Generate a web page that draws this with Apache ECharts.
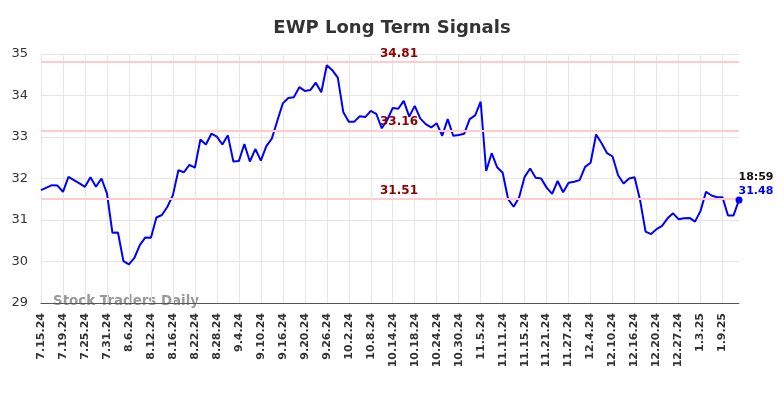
<!DOCTYPE html>
<html>
<head>
<meta charset="utf-8">
<script src="https://cdn.jsdelivr.net/npm/echarts@6/dist/echarts.min.js"></script>
<style>
html,body{margin:0;padding:0;background:#fff;}
#c{width:784px;height:398px;}
</style>
</head>
<body>
<div id="c"></div>
<script>
const dates = [
"7.15.24","7.16.24","7.17.24","7.18.24","7.19.24","7.22.24","7.23.24","7.24.24","7.25.24","7.26.24","7.29.24","7.30.24","7.31.24",
"8.1.24","8.2.24","8.5.24","8.6.24","8.7.24","8.8.24","8.9.24","8.12.24","8.13.24","8.14.24","8.15.24","8.16.24",
"8.19.24","8.20.24","8.21.24","8.22.24","8.23.24","8.26.24","8.27.24","8.28.24","8.29.24","8.30.24",
"9.3.24","9.4.24","9.5.24","9.6.24","9.9.24","9.10.24","9.11.24","9.12.24","9.13.24","9.16.24","9.17.24","9.18.24","9.19.24","9.20.24",
"9.23.24","9.24.24","9.25.24","9.26.24","9.27.24","9.30.24",
"10.1.24","10.2.24","10.3.24","10.4.24","10.7.24","10.8.24","10.9.24","10.10.24","10.11.24","10.14.24","10.15.24","10.16.24","10.17.24","10.18.24",
"10.21.24","10.22.24","10.23.24","10.24.24","10.25.24","10.28.24","10.29.24","10.30.24","10.31.24",
"11.1.24","11.4.24","11.5.24","11.6.24","11.7.24","11.8.24","11.11.24","11.12.24","11.13.24","11.14.24","11.15.24",
"11.18.24","11.19.24","11.20.24","11.21.24","11.22.24","11.25.24","11.26.24","11.27.24","11.29.24",
"12.2.24","12.3.24","12.4.24","12.5.24","12.6.24","12.9.24","12.10.24","12.11.24","12.12.24","12.13.24",
"12.16.24","12.17.24","12.18.24","12.19.24","12.20.24","12.23.24","12.24.24","12.26.24","12.27.24","12.30.24","12.31.24",
"1.2.25","1.3.25","1.6.25","1.7.25","1.8.25","1.9.25","1.10.25","1.13.25","1.14.25"
];
const closes = [
31.72,31.78,31.84,31.83,31.68,32.04,31.96,31.88,31.80,32.03,31.80,32.00,31.64,
30.69,30.70,30.01,29.93,30.09,30.40,30.58,30.57,31.06,31.12,31.32,31.60,
32.20,32.15,32.33,32.26,32.94,32.82,33.08,33.01,32.82,33.04,
32.41,32.42,32.83,32.41,32.71,32.43,32.78,32.96,33.39,33.81,33.94,33.96,34.20,34.11,
34.13,34.31,34.08,34.73,34.61,34.43,
33.60,33.37,33.37,33.50,33.48,33.63,33.56,33.21,33.41,33.70,33.68,33.87,33.49,33.75,
33.45,33.31,33.23,33.33,33.03,33.43,33.03,33.05,33.08,
33.43,33.52,33.85,32.18,32.61,32.27,32.14,31.50,31.32,31.55,32.04,
32.24,32.02,32.00,31.78,31.63,31.94,31.67,31.90,31.92,
31.96,32.28,32.38,33.06,32.85,32.61,32.53,32.08,31.88,32.00,
32.03,31.48,30.72,30.66,30.78,30.86,31.04,31.16,31.02,31.04,31.05,
30.96,31.22,31.68,31.59,31.55,31.55,31.11,31.11,31.48
];
const levels = [34.81, 33.16, 31.51];
const yMin = 29, yMax = 35, yStep = 1;
const lastTime = "18:59";

const chart = echarts.init(document.getElementById('c'), null, {renderer:'canvas'});
const lastIdx = closes.length - 1;
const FONT = '"DejaVu Sans", sans-serif';

chart.setOption({
  animation: false,
  backgroundColor: '#fff',
  title: {
    text: 'EWP Long Term Signals',
    left: 'center', top: 14,
    textStyle: {fontFamily: FONT, fontSize: 18, fontWeight: 'bold', color: '#333'}
  },
  grid: {left: 41, right: 45, top: 54, bottom: 95, containLabel: false},
  xAxis: {
    type: 'category',
    data: dates,
    boundaryGap: false,
    axisLine: {show: true, lineStyle: {color: '#555', width: 1}},
    axisTick: {show: false},
    axisLabel: {
      interval: 3, rotate: 90, margin: 10,
      fontFamily: FONT, fontSize: 11, fontWeight: 'bold', color: '#333'
    },
    splitLine: {show: true, interval: 3, lineStyle: {color: '#e6e6e6', width: 1}}
  },
  yAxis: {
    type: 'value',
    min: yMin, max: yMax, interval: yStep,
    axisLine: {show: false},
    axisTick: {show: false},
    axisLabel: {fontFamily: FONT, fontSize: 13, color: '#333', margin: 13},
    splitLine: {show: true, lineStyle: {color: '#e6e6e6', width: 1}}
  },
  graphic: [{
    type: 'text',
    left: 53, top: 295,
    style: {text: 'Stock Traders Daily', fontFamily: FONT, fontSize: 13.4, fontWeight: 'bold', fill: '#999'}
  }],
  series: [{
    type: 'line',
    data: closes,
    symbol: 'none',
    lineStyle: {color: '#0000ff', width: 2},
    z: 3,
    markLine: {
      silent: true,
      symbol: 'none',
      lineStyle: {color: '#ffcccc', width: 2, type: 'solid'},
      label: {
        show: true, position: 'middle', distance: 2,
        padding: [0, 0, 0, 18],
        formatter: p => p.value.toFixed(2),
        fontFamily: FONT, fontSize: 12, fontWeight: 'bold', color: '#8b0000'
      },
      data: levels.map(v => ({yAxis: v}))
    },
    markPoint: {
      symbol: 'circle', symbolSize: 7,
      itemStyle: {color: '#0000ff'},
      data: [{coord: [lastIdx, closes[lastIdx]], value: closes[lastIdx]}],
      label: {
        show: true,
        position: [3, -26],
        align: 'left', verticalAlign: 'top',
        formatter: () => '{t|' + lastTime + '}\n{v|' + closes[lastIdx].toFixed(2) + '}',
        rich: {
          t: {fontFamily: FONT, fontSize: 11, fontWeight: 'bold', color: '#111', lineHeight: 14},
          v: {fontFamily: FONT, fontSize: 11, fontWeight: 'bold', color: '#0000ff', lineHeight: 14}
        }
      }
    }
  }]
});
</script>
</body>
</html>
